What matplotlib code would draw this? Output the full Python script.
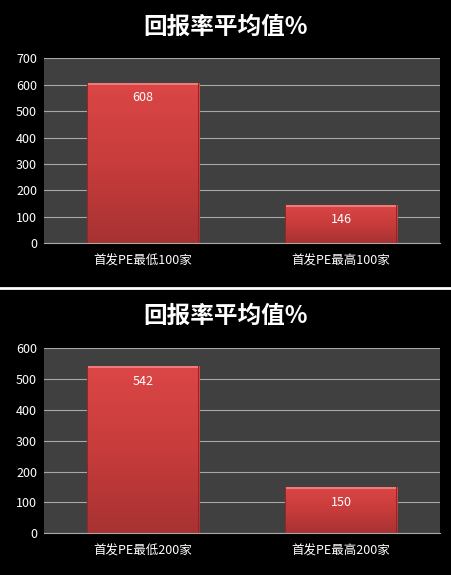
import matplotlib.pyplot as plt
import numpy as np
from matplotlib.lines import Line2D
from matplotlib.colors import LinearSegmentedColormap

plt.rcParams['font.family'] = ['Noto Sans CJK SC', 'DejaVu Sans']

title = '回报率平均值%'
cats_top = ['首发PE最低100家', '首发PE最高100家']
vals_top = [608, 146]
cats_bot = ['首发PE最低200家', '首发PE最高200家']
vals_bot = [542, 150]

fig = plt.figure(figsize=(4.52, 5.75), dpi=100, facecolor='black')

# gradient for the bars (light red at top, darker at bottom)
grad = np.linspace(0, 1, 256).reshape(-1, 1)
red_cmap = LinearSegmentedColormap.from_list('r', ['#a83232', '#c83c3c', '#dc4646'])


def draw_chart(ax, cats, vals, ymax, title_y):
    ax.set_facecolor('#404040')
    x = np.arange(len(cats))
    bars = ax.bar(x, vals, width=0.57, color='#c83c3c', zorder=3)
    ax.set_xlim(-0.5, len(cats) - 0.5)
    ax.set_ylim(0, ymax)
    for b, v in zip(bars, vals):
        x0, w, h = b.get_x(), b.get_width(), b.get_height()
        im = ax.imshow(grad, extent=(x0, x0 + w, 0, h), origin='lower', cmap=red_cmap,
                       aspect='auto', zorder=4)
        im.set_clip_path(b)
        # bevel: light strip at top and darker edges at sides
        ax.fill_between([x0, x0 + w], h - ymax * 0.012, h, color='#ef7a7a', zorder=5, lw=0)
        ax.fill_between([x0, x0 + w * 0.015], 0, h, color='#8e2828', zorder=5, lw=0)
        ax.fill_between([x0 + w * 0.985, x0 + w], 0, h, color='#8e2828', zorder=5, lw=0)
        ax.annotate(str(v), (b.get_x() + w / 2, h), xytext=(0, -11), textcoords='offset points',
                    ha='center', va='center', color='white', fontsize=9, zorder=6)
    ax.set_xticks(x)
    ax.set_xticklabels(cats, color='white', fontsize=9)
    ax.set_yticks(np.arange(0, ymax + 1, 100))
    ax.tick_params(axis='y', colors='white', labelsize=9, length=0, pad=5)
    ax.tick_params(axis='x', length=0, pad=8)
    ax.grid(axis='y', color='#a8a8a8', lw=0.8, zorder=1)
    for s in ['top', 'right', 'left']:
        ax.spines[s].set_visible(False)
    ax.spines['bottom'].set_color('#a8a8a8')
    ax.spines['bottom'].set_zorder(7)
    fig.text(0.5, title_y, title, ha='center', va='center', color='white',
             fontsize=17, fontweight='bold')


ax1 = fig.add_axes([0.0973, 0.577, 0.876, 0.3217])
draw_chart(ax1, cats_top, vals_top, 700, 1 - 27 / 575)

ax2 = fig.add_axes([0.0973, 0.0725, 0.876, 0.3217])
draw_chart(ax2, cats_bot, vals_bot, 600, 1 - 316 / 575)

# white separator between the two charts
fig.add_artist(Line2D([0, 1], [1 - 288 / 575, 1 - 288 / 575], color='white', lw=2))

fig.savefig('out.png', dpi=100, facecolor='black')
